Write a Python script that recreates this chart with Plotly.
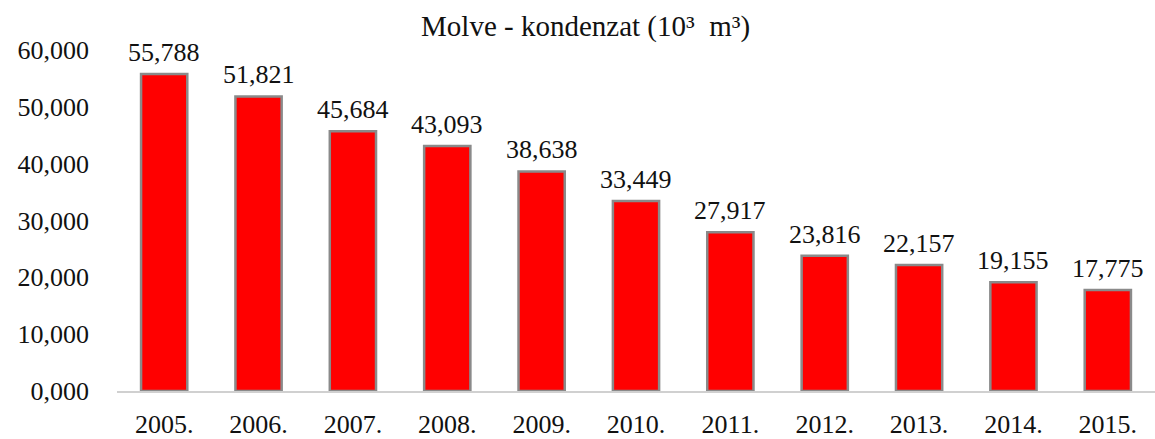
import plotly.graph_objects as go

years = ["2005.", "2006.", "2007.", "2008.", "2009.", "2010.", "2011.", "2012.", "2013.", "2014.", "2015."]
values = [55.788, 51.821, 45.684, 43.093, 38.638, 33.449, 27.917, 23.816, 22.157, 19.155, 17.775]
y_ticks = [0, 10, 20, 30, 40, 50, 60]

FONT = "Liberation Serif"
TXT = "#111111"

fig = go.Figure(go.Bar(
    x=years, y=values,
    marker=dict(color="#ff0000", line=dict(color="#8a8a8a", width=2.5)),
    hoverinfo="x+y",
))

# value labels above bars (category axis: annotations positioned by category index)
for i, v in enumerate(values):
    fig.add_annotation(x=i, y=v, text=f"{v:.3f}".replace(".", ","),
                       showarrow=False, yanchor="bottom", yshift=5,
                       font=dict(family=FONT, size=26, color=TXT))

fig.update_layout(
    width=1155, height=439,
    margin=dict(l=117, r=0, t=50, b=48),
    paper_bgcolor="white", plot_bgcolor="white",
    separators=",.",
    bargap=0.51,
    showlegend=False,
    title=dict(text="Molve - kondenzat (10³  m³)", x=0.507, xanchor="center",
               y=0.94, yanchor="middle",
               font=dict(family=FONT, size=29, color=TXT)),
    font=dict(family=FONT, size=26, color=TXT),
)
fig.update_yaxes(range=[0, 60], tickvals=y_ticks, tickformat=".3f",
                 showgrid=False, zeroline=False, showline=False,
                 ticklabelstandoff=27, automargin=False)
fig.update_xaxes(type="category", range=[-0.5, len(years) - 0.5],
                 showline=True, linecolor="#d0d0d0", linewidth=2,
                 ticks="", ticklabelstandoff=9, automargin=False)

fig.write_html("out.html", config={"displayModeBar": False},
               post_script="document.body.style.margin='0';document.body.style.overflow='hidden';")
